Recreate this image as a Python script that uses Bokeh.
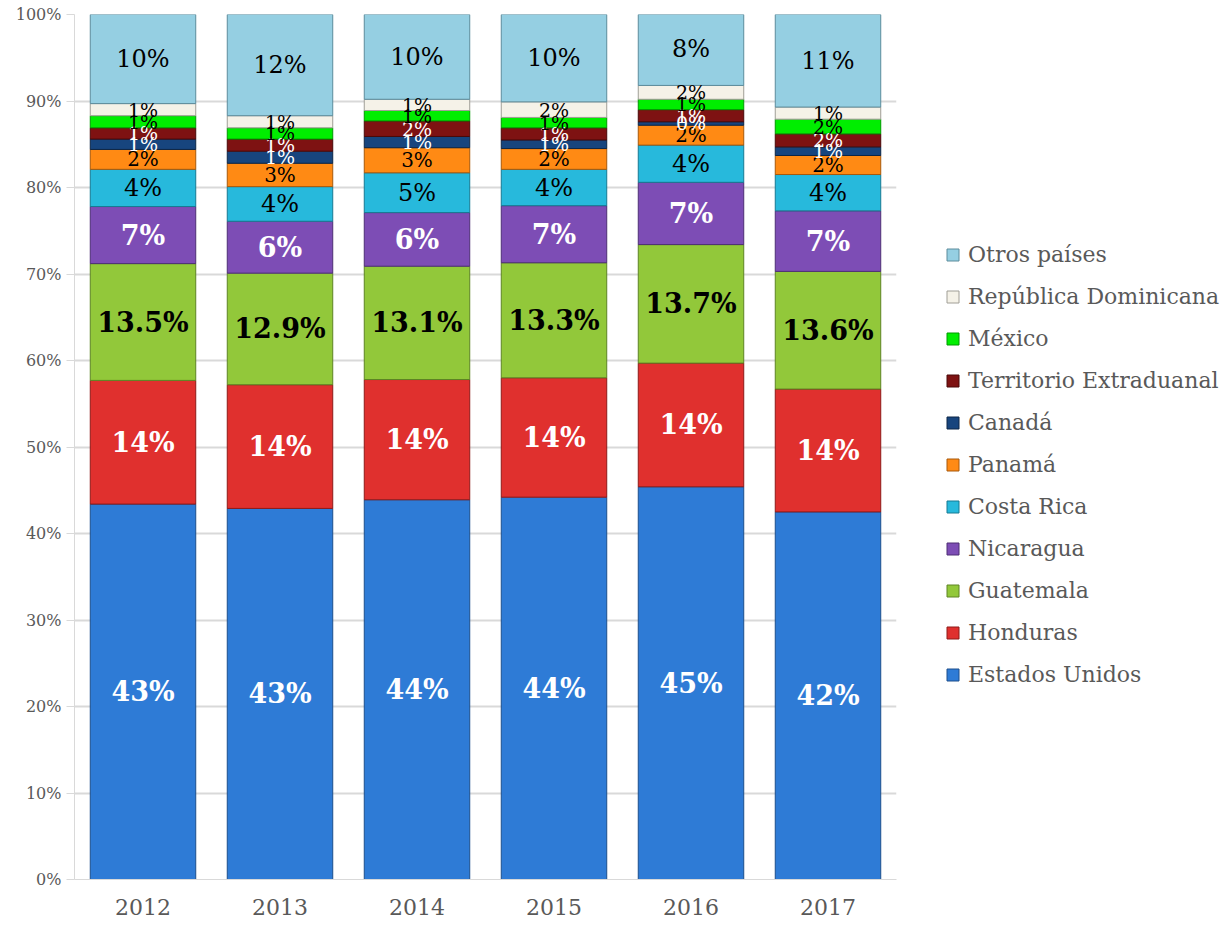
from bokeh.plotting import figure
from bokeh.models import ColumnDataSource, FactorRange, Range1d, Legend, LegendItem, CustomJSTickFormatter, FixedTicker
from bokeh.core.properties import value
from bokeh.embed import file_html
from bokeh.resources import INLINE

years = ["2012", "2013", "2014", "2015", "2016", "2017"]
series = ["Estados Unidos", "Honduras", "Guatemala", "Nicaragua", "Costa Rica", "Panamá",
          "Canadá", "Territorio Extraduanal", "México", "República Dominicana", "Otros países"]
estados_unidos = [43.4, 42.9, 43.9, 44.2, 45.4, 42.5]
honduras = [14.3, 14.3, 13.9, 13.8, 14.3, 14.2]
guatemala = [13.5, 12.9, 13.1, 13.3, 13.7, 13.6]
nicaragua = [6.6, 6.0, 6.2, 6.6, 7.2, 7.0]
costa_rica = [4.3, 4.0, 4.6, 4.2, 4.3, 4.2]
panama = [2.3, 2.7, 2.9, 2.4, 2.3, 2.2]
canada = [1.2, 1.4, 1.3, 1.0, 0.4, 1.0]
territorio = [1.3, 1.4, 1.8, 1.4, 1.4, 1.5]
mexico = [1.4, 1.3, 1.2, 1.2, 1.2, 1.7]
rep_dominicana = [1.4, 1.4, 1.3, 1.8, 1.6, 1.4]
otros = [10.3, 11.7, 9.8, 10.1, 8.4, 10.7]
values = [estados_unidos, honduras, guatemala, nicaragua, costa_rica, panama,
          canada, territorio, mexico, rep_dominicana, otros]

colors = ["#2E7BD6", "#E0302E", "#92C83A", "#7D4DB5", "#27B9DC", "#FF8A14",
          "#17457E", "#7E1212", "#00EE00", "#F5F2E8", "#95CFE2"]
outlines = ["#1C4F8C", "#8E1A19", "#5E8424", "#4E2F75", "#177A93", "#A8590B",
            "#0C2647", "#4A0909", "#009900", "#A09E96", "#5C8C9C"]
label_colors = ["white", "white", "black", "white", "black", "black",
                "white", "white", "black", "black", "black"]
label_bold = [True, True, True, True, False, False, False, False, False, False, False]
label_sizes = ["27px", "27px", "27px", "27px", "24px", "20px", "19px", "19px", "19px", "19px", "24px"]

data = {"years": years}
for s, v in zip(series, values):
    data[s] = v
source = ColumnDataSource(data)

p = figure(x_range=FactorRange(factors=years, range_padding=0), y_range=Range1d(0, 100),
           frame_width=822, frame_height=865, output_backend="svg", toolbar_location=None,
           min_border_left=74, min_border_right=0, min_border_top=14, min_border_bottom=46)

renderers = p.vbar_stack(series, x="years", width=0.77, source=source,
                         color=colors, line_color=outlines, line_width=1)

serif = "DejaVu Serif"
base = [0.0] * len(years)
for i, (s, v) in enumerate(zip(series, values)):
    centers = [b + x / 2 for b, x in zip(base, v)]
    if s == "Guatemala":
        texts = [f"{x:.1f}%" for x in v]
    else:
        texts = [f"{x:.0f}%" for x in v]
    base = [b + x for b, x in zip(base, v)]
    lsrc = ColumnDataSource({"x": years, "y": centers, "t": texts})
    p.text(x="x", y="y", text="t", source=lsrc, text_align="center", text_baseline="middle",
           text_font=value(serif), text_font_size=label_sizes[i], text_color=label_colors[i],
           text_font_style="bold" if label_bold[i] else "normal")

p.yaxis.ticker = FixedTicker(ticks=list(range(0, 101, 10)))
p.yaxis.formatter = CustomJSTickFormatter(code="return tick.toFixed(0) + '%';")
p.yaxis.major_label_text_font = serif
p.yaxis.major_label_text_font_size = "16px"
p.yaxis.major_label_text_color = "#595959"
p.yaxis.axis_line_color = "#D9D9D9"
p.yaxis.major_tick_line_color = "#D9D9D9"
p.yaxis.major_tick_out = 8
p.yaxis.major_tick_in = 0
p.yaxis.minor_tick_line_color = None
p.xaxis.major_label_text_font = serif
p.xaxis.major_label_text_font_size = "22px"
p.xaxis.major_label_text_color = "#595959"
p.xaxis.major_label_standoff = 13
p.xaxis.axis_line_color = "#D9D9D9"
p.xaxis.major_tick_line_color = None
p.xgrid.grid_line_color = None
p.ygrid.grid_line_color = "#D9D9D9"
p.ygrid.grid_line_width = 2
p.outline_line_color = None

items = [LegendItem(label=s, renderers=[r]) for s, r in zip(series, renderers)][::-1]
legend = Legend(items=items, location=(49, 192), label_text_font=serif, label_text_font_size="22px",
                label_text_color="#595959", glyph_width=15, glyph_height=15, label_height=25,
                spacing=17, padding=0, margin=0, border_line_color=None, background_fill_alpha=0,
                label_standoff=8)
p.add_layout(legend, "right")

open("out.html", "w").write(file_html(p, INLINE))
